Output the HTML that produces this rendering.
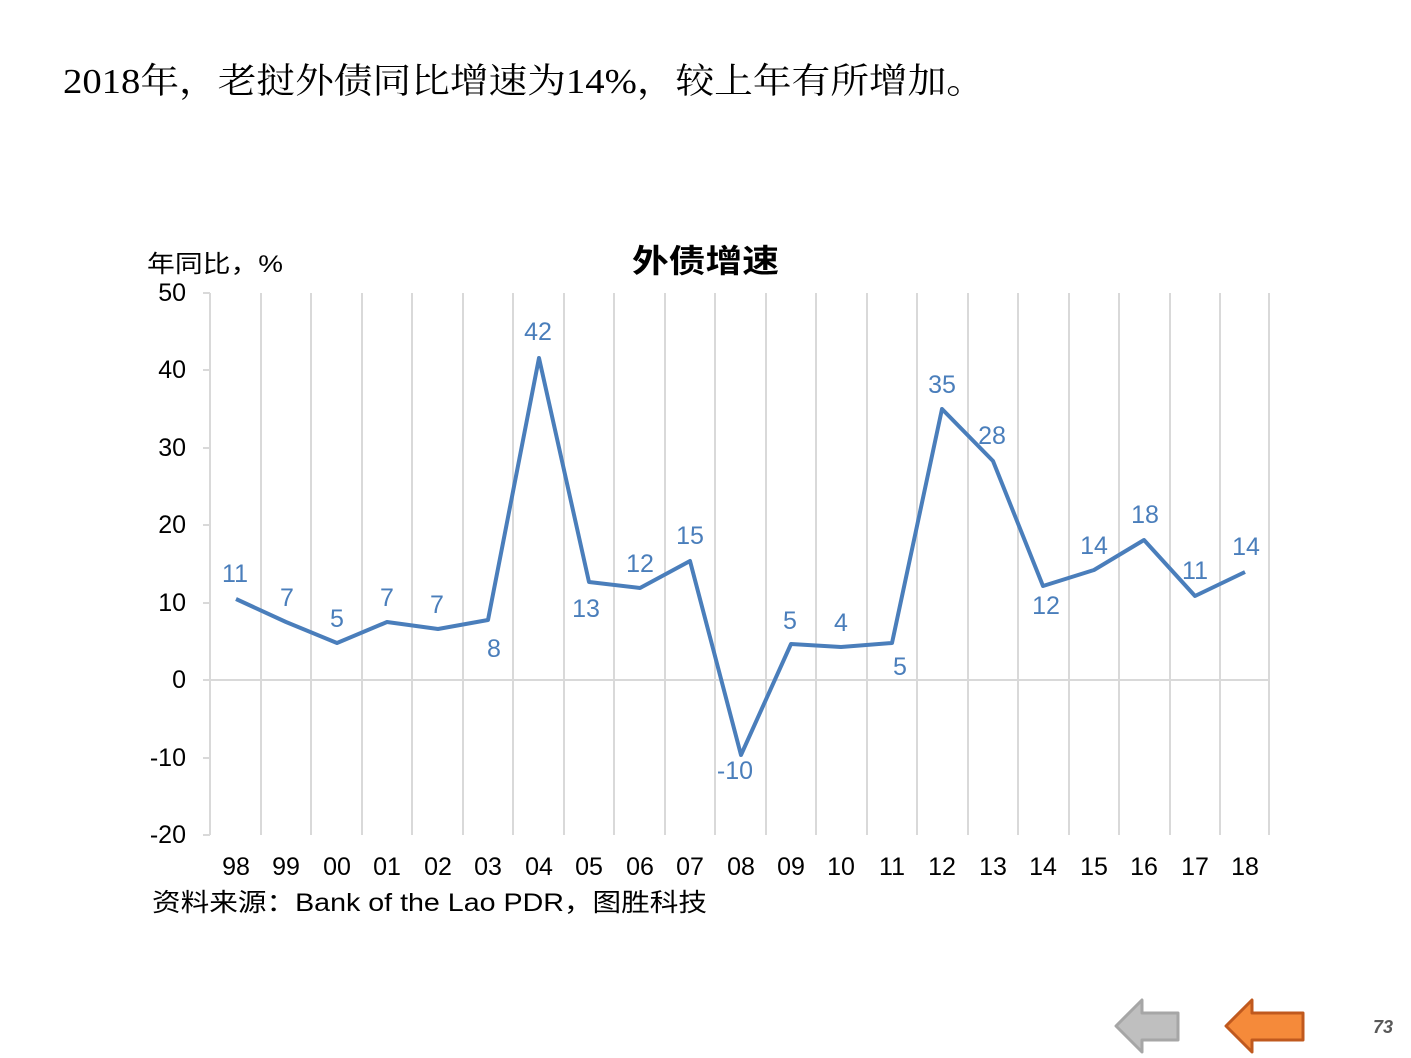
<!DOCTYPE html>
<html><head><meta charset="utf-8"><style>
body{margin:0;background:#fff;}
svg{display:block}
.s{font-family:"Liberation Sans","Noto Sans CJK SC",sans-serif;}
</style></head><body>
<svg width="1411" height="1058" viewBox="0 0 1411 1058" xmlns="http://www.w3.org/2000/svg">
<rect width="1411" height="1058" fill="#fff"/>
<text x="63" y="93" font-family="Liberation Serif,'Noto Serif CJK SC',serif" font-size="35" fill="#000" textLength="922" lengthAdjust="spacingAndGlyphs">2018年，老挝外债同比增速为14%，较上年有所增加。</text>
<text class="s" x="147" y="272" font-size="24" fill="#000" textLength="136" lengthAdjust="spacingAndGlyphs">年同比，%</text>
<text class="s" x="632" y="272" font-size="32" font-weight="bold" fill="#000" textLength="147" lengthAdjust="spacingAndGlyphs">外债增速</text>
<g stroke="#d9d9d9" stroke-width="2">
<line x1="261" y1="293" x2="261" y2="835"/><line x1="311" y1="293" x2="311" y2="835"/><line x1="362" y1="293" x2="362" y2="835"/><line x1="412" y1="293" x2="412" y2="835"/><line x1="463" y1="293" x2="463" y2="835"/><line x1="513" y1="293" x2="513" y2="835"/><line x1="564" y1="293" x2="564" y2="835"/><line x1="614" y1="293" x2="614" y2="835"/><line x1="665" y1="293" x2="665" y2="835"/><line x1="715" y1="293" x2="715" y2="835"/><line x1="766" y1="293" x2="766" y2="835"/><line x1="816" y1="293" x2="816" y2="835"/><line x1="867" y1="293" x2="867" y2="835"/><line x1="917" y1="293" x2="917" y2="835"/><line x1="968" y1="293" x2="968" y2="835"/><line x1="1018" y1="293" x2="1018" y2="835"/><line x1="1069" y1="293" x2="1069" y2="835"/><line x1="1119" y1="293" x2="1119" y2="835"/><line x1="1170" y1="293" x2="1170" y2="835"/><line x1="1220" y1="293" x2="1220" y2="835"/><line x1="1269" y1="293" x2="1269" y2="835"/>
<line x1="210" y1="293" x2="210" y2="835"/>
<line x1="210" y1="680" x2="1269" y2="680"/>
<line x1="203" y1="293" x2="210" y2="293"/><line x1="203" y1="370" x2="210" y2="370"/><line x1="203" y1="448" x2="210" y2="448"/><line x1="203" y1="525" x2="210" y2="525"/><line x1="203" y1="603" x2="210" y2="603"/><line x1="203" y1="680" x2="210" y2="680"/><line x1="203" y1="758" x2="210" y2="758"/><line x1="203" y1="835" x2="210" y2="835"/>
</g>
<g class="s" font-size="25" fill="#000" text-anchor="end">
<text x="186" y="301">50</text><text x="186" y="378">40</text><text x="186" y="456">30</text><text x="186" y="533">20</text><text x="186" y="611">10</text><text x="186" y="688">0</text><text x="186" y="766">-10</text><text x="186" y="843">-20</text>
</g>
<polyline fill="none" stroke="#4a7ebb" stroke-width="4" stroke-linejoin="round" points="236,599 286,622 337,643 387,622 438,629 488,620 539,358 589,582 640,588 690,561 741,755 791,644 841,647 892,643 942,409 993,461 1043,586 1094,570 1144,540 1195,596 1245,572"/>
<g class="s" font-size="25" fill="#4a7ebb" text-anchor="middle">
<text x="235" y="582">11</text><text x="287" y="606">7</text><text x="337" y="627">5</text><text x="387" y="606">7</text><text x="437" y="613">7</text><text x="494" y="657">8</text><text x="538" y="340">42</text><text x="586" y="617">13</text><text x="640" y="572">12</text><text x="690" y="544">15</text><text x="735" y="779">-10</text><text x="790" y="629">5</text><text x="841" y="631">4</text><text x="900" y="675">5</text><text x="942" y="393">35</text><text x="992" y="444">28</text><text x="1046" y="614">12</text><text x="1094" y="554">14</text><text x="1145" y="523">18</text><text x="1195" y="579">11</text><text x="1246" y="555">14</text>
</g>
<g class="s" font-size="25" fill="#000" text-anchor="middle">
<text x="236" y="875">98</text><text x="286" y="875">99</text><text x="337" y="875">00</text><text x="387" y="875">01</text><text x="438" y="875">02</text><text x="488" y="875">03</text><text x="539" y="875">04</text><text x="589" y="875">05</text><text x="640" y="875">06</text><text x="690" y="875">07</text><text x="741" y="875">08</text><text x="791" y="875">09</text><text x="841" y="875">10</text><text x="892" y="875">11</text><text x="942" y="875">12</text><text x="993" y="875">13</text><text x="1043" y="875">14</text><text x="1094" y="875">15</text><text x="1144" y="875">16</text><text x="1195" y="875">17</text><text x="1245" y="875">18</text>
</g>
<text class="s" x="152" y="911" font-size="25" fill="#000" textLength="555" lengthAdjust="spacingAndGlyphs">资料来源：Bank of the Lao PDR，图胜科技</text>
<polygon points="1116,1026 1142,1000 1142,1013 1178,1013 1178,1040 1142,1040 1142,1052" fill="#bfbfbf" stroke="#a6a6a6" stroke-width="3" stroke-linejoin="round"/>
<polygon points="1226,1026 1252,1000 1252,1013 1303,1013 1303,1040 1252,1040 1252,1052" fill="#f58a3a" stroke="#c0591e" stroke-width="3" stroke-linejoin="round"/>
<text class="s" x="1393" y="1033" font-size="18" font-weight="bold" font-style="italic" fill="#595959" text-anchor="end">73</text>
</svg>
</body></html>
